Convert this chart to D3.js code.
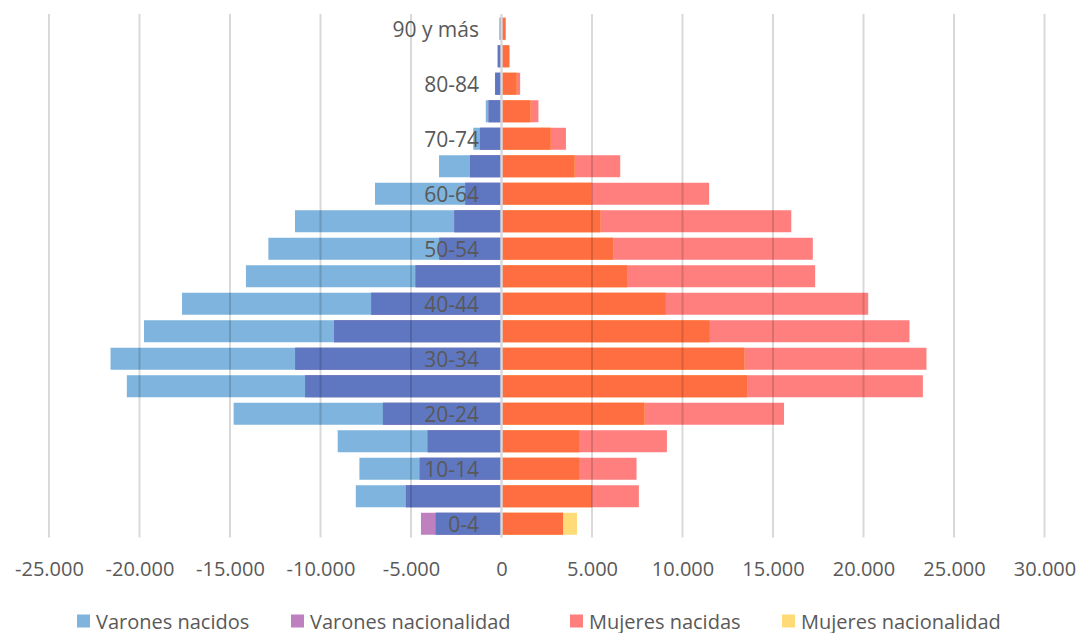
<!DOCTYPE html>
<html>
<head>
<meta charset="utf-8">
<script src="https://cdn.jsdelivr.net/npm/d3@7"></script>
<style>
  html, body { margin: 0; padding: 0; background: #ffffff; }
  svg { display: block; }
  text { font-family: "Open Sans", "Noto Sans", sans-serif; fill: #595959; }
</style>
</head>
<body>
<svg id="chart" width="1081" height="633"></svg>
<script>
// ---- data ----
const ages = ["0-4","5-9","10-14","15-19","20-24","25-29","30-34","35-39","40-44","45-49",
              "50-54","55-59","60-64","65-69","70-74","75-79","80-84","85-89","90 y más"];
const varonesNacidos      = [3640, 8050, 7850, 9050, 14800, 20700, 21600, 19750, 17650, 14120,
                             12880, 11410, 6990, 3450, 1560, 870, 360, 220, 110];
const varonesNacionalidad = [4450, 5280, 4520, 4080, 6550, 10850, 11400, 9250, 7200, 4750,
                             3440, 2610, 2000, 1740, 1190, 710, 350, 200, 90];
const mujeresNacidas      = [3400, 7590, 7460, 9140, 15610, 23280, 23480, 22540, 20260, 17330,
                             17200, 16010, 11470, 6560, 3560, 2040, 1030, 440, 230];
const mujeresNacionalidad = [4170, 5000, 4320, 4320, 7900, 13570, 13420, 11510, 9080, 6970,
                             6180, 5460, 4980, 4040, 2720, 1600, 840, 430, 220];
const tickValues = [-25000,-20000,-15000,-10000,-5000,0,5000,10000,15000,20000,25000,30000];
const seriesNames = ["Varones nacidos","Varones nacionalidad","Mujeres nacidas","Mujeres nacionalidad"];
const seriesColors = ["#7EB4DD","#BF80C0","#FF7F7F","#FFDB78"];
const overlapColors = { men: "#5F77C0", women: "#FF6E40" };

// ---- layout ----
const svg = d3.select("#chart");
const plotTop = 15, plotBottom = 537.5;
const x = d3.scaleLinear().domain([-25000, 30000]).range([49, 1044.5]);
const y = d3.scaleBand().domain(ages.slice().reverse()).range([plotTop, plotBottom])
  .paddingInner(0.2).paddingOuter(0.1);

const rows = ages.map((a, i) => ({
  age: a, i,
  vn: varonesNacidos[i], vc: varonesNacionalidad[i],
  mn: mujeresNacidas[i], mc: mujeresNacionalidad[i]
}));

const bars = svg.append("g");
function drawBars(cls, valueFn, sign, color) {
  bars.selectAll("rect." + cls).data(rows).join("rect")
    .attr("class", cls)
    .attr("x", d => sign < 0 ? x(-valueFn(d)) : x(0))
    .attr("width", d => Math.abs(x(valueFn(d)) - x(0)))
    .attr("y", d => y(d.age))
    .attr("height", y.bandwidth())
    .attr("fill", color);
}
// men (left)
drawBars("vn", d => d.vn, -1, seriesColors[0]);
drawBars("vc", d => d.vc, -1, seriesColors[1]);
drawBars("vo", d => Math.min(d.vn, d.vc), -1, overlapColors.men);
// women (right)
drawBars("mn", d => d.mn, 1, seriesColors[2]);
drawBars("mc", d => d.mc, 1, seriesColors[3]);
drawBars("mo", d => Math.min(d.mn, d.mc), 1, overlapColors.women);

// gridlines on top (semi-transparent, as in the reference)
svg.append("g").selectAll("line").data(tickValues.filter(v => v !== 0)).join("line")
  .attr("x1", d => x(d)).attr("x2", d => x(d))
  .attr("y1", plotTop - 1).attr("y2", plotBottom)
  .attr("stroke", "rgba(0,0,0,0.15)").attr("stroke-width", 2);
// center axis line
svg.append("line")
  .attr("x1", x(0)).attr("x2", x(0))
  .attr("y1", plotTop - 1).attr("y2", plotBottom)
  .attr("stroke", "#D9D9D9").attr("stroke-width", 2.4);

// age labels (every other category)
svg.append("g").selectAll("text").data(rows.filter(d => d.i % 2 === 0)).join("text")
  .attr("x", 479)
  .attr("y", d => y(d.age) + y.bandwidth() / 2)
  .attr("text-anchor", "end")
  .attr("dominant-baseline", "central")
  .style("font-size", "21px")
  .text(d => d.age);

// x axis tick labels
const loc = d3.formatLocale({ decimal: ",", thousands: ".", grouping: [3], currency: ["", "€"], minus: "-" });
const fmt = loc.format(",d");
const axis = d3.axisBottom(x).tickValues(tickValues).tickSize(0).tickPadding(0).tickFormat(fmt);
const ax = svg.append("g").attr("transform", "translate(0,568)").call(axis);
ax.select(".domain").remove();
ax.selectAll("text")
  .attr("y", 0).attr("dy", null)
  .attr("dominant-baseline", "central")
  .style("font-family", "'Open Sans', 'Noto Sans', sans-serif")
  .style("font-size", "20px")
  .style("fill", "#595959");

// legend
const legendX = [77, 291, 570, 782];
const lg = svg.append("g").selectAll("g").data(seriesNames).join("g")
  .attr("transform", (d, i) => `translate(${legendX[i]},621)`);
lg.append("rect").attr("x", 0).attr("y", -6.5).attr("width", 13).attr("height", 13)
  .attr("fill", (d, i) => seriesColors[i]);
lg.append("text").attr("x", 19).attr("y", 0)
  .attr("dominant-baseline", "central")
  .style("font-size", "20px")
  .text(d => d);
</script>
</body>
</html>
